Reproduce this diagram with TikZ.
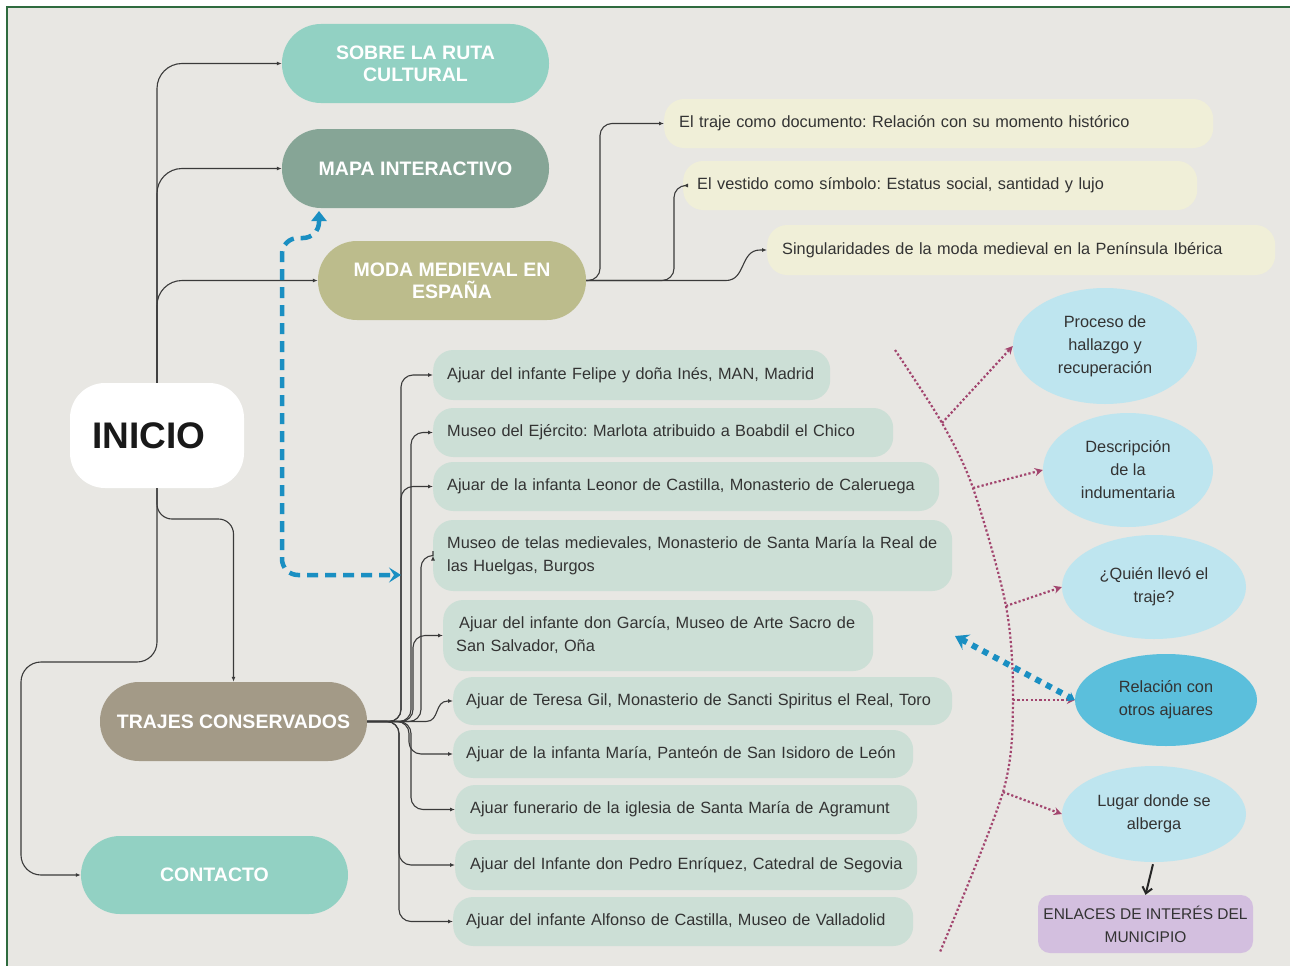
\documentclass[tikz,border=0pt]{standalone}
\usepackage{fontspec}
\setmainfont{Liberation Sans}
\usetikzlibrary{arrows.meta,shapes.geometric,calc}
\definecolor{bgc}{HTML}{E8E7E3}
\definecolor{framec}{HTML}{2F6B3F}
\definecolor{teal}{HTML}{92D1C3}
\definecolor{mapac}{HTML}{86A596}
\definecolor{modac}{HTML}{BCBC8C}
\definecolor{trajc}{HTML}{A39A87}
\definecolor{creamc}{HTML}{F0EFD8}
\definecolor{listc}{HTML}{CCDFD6}
\definecolor{lblue}{HTML}{BEE5EF}
\definecolor{dblue}{HTML}{5BBFDC}
\definecolor{purp}{HTML}{D3BFDF}
\definecolor{pinkc}{HTML}{A2456E}
\definecolor{bluec}{HTML}{1A8FC2}
\definecolor{txt}{HTML}{333333}
\definecolor{linec}{HTML}{3A3A3A}
\frenchspacing
\begin{document}
\begin{tikzpicture}[x=1pt,y=-1pt,
  head/.style={fill=#1, rounded corners=39pt, minimum width=267pt, minimum height=79pt,
    text=white, font=\bfseries\fontsize{19.5}{22}\selectfont, align=center, inner sep=0pt},
  cbox/.style={fill=creamc, rounded corners=20pt, minimum height=49pt, anchor=west,
    inner ysep=0pt, font=\fontsize{16.3}{23}\selectfont, text=txt, align=left},
  lbox/.style={fill=listc, rounded corners=20pt, minimum height=49pt, anchor=west,
    inner ysep=0pt, font=\fontsize{16.3}{23}\selectfont, text=txt, align=left},
  ell/.style={ellipse, fill=lblue, inner sep=0pt, text=txt, align=center,
    font=\fontsize{16.3}{23}\selectfont},
  conn/.style={draw=linec, line width=1.1pt, -{Latex[length=5pt,width=4pt]}},
  pdot/.style={draw=pinkc, line width=2.2pt, dash pattern=on 2.2pt off 2.2pt},
  parr/.style={pdot, -{Stealth[length=8pt,width=8pt,fill=pinkc]}}
]
\useasboundingbox (0,0) rectangle (1290,966);
\fill[white] (0,0) rectangle (1290,966);
\fill[bgc] (7,7) rectangle (1290,966);
\draw[framec, line width=2pt] (7,966) -- (7,7) -- (1290,7);

% main nodes
\node[head=teal] (sobre) at (415.5,63.5) {SOBRE LA RUTA\\CULTURAL};
\node[head=mapac] (mapa) at (415.5,168.5) {MAPA INTERACTIVO};
\node[head=modac, minimum width=268pt] (moda) at (452,280.5) {MODA MEDIEVAL EN\\ESPAÑA};
\node[head=trajc] (trajes) at (233.5,721.5) {TRAJES CONSERVADOS};
\node[head=teal, minimum height=78pt] (contacto) at (214.5,875) {CONTACTO};
\node[fill=white, rounded corners=35pt, minimum width=174pt, minimum height=105pt,
  font=\bfseries\fontsize{37}{40}\selectfont, text=black!90] (inicio) at (157,435.5) {\hspace*{-16pt}INICIO};

% cream boxes
\node[cbox, inner xsep=15pt, text width=519pt] (c1) at (664,123.5) {\mbox{El traje como documento: Relación con su momento histórico}};
\node[cbox, inner xsep=14pt, text width=486pt] (c2) at (683,185.5) {\mbox{El vestido como símbolo: Estatus social, santidad y lujo}};
\node[cbox, inner xsep=15pt, text width=478pt, minimum height=50pt] (c3) at (767,250) {\mbox{Singularidades de la moda medieval en la Península Ibérica}};

% list boxes
\node[lbox, inner xsep=14pt, text width=369pt, minimum height=50pt] (l1) at (433,375) {\mbox{Ajuar del infante Felipe y doña Inés, MAN, Madrid}};
\node[lbox, inner xsep=14pt, text width=432pt] (l2) at (433,432.5) {\mbox{Museo del Ejército: Marlota atribuido a Boabdil el Chico}};
\node[lbox, inner xsep=14pt, text width=478pt] (l3) at (433,486.5) {\mbox{Ajuar de la infanta Leonor de Castilla, Monasterio de Caleruega}};
\node[lbox, inner xsep=14pt, text width=491pt, minimum height=71pt] (l4) at (433,555.5) {\mbox{Museo de telas medievales, Monasterio de Santa María la Real de}\\\mbox{las Huelgas, Burgos}};
\node[lbox, inner xsep=13pt, text width=404pt, minimum height=71pt] (l5) at (443,635.5) {\mbox{\hspace*{3pt}Ajuar del infante don García, Museo de Arte Sacro de}\\\mbox{San Salvador, Oña}};
\node[lbox, inner xsep=13pt, text width=473pt, minimum height=48pt] (l6) at (453,701) {\mbox{Ajuar de Teresa Gil, Monasterio de Sancti Spiritus el Real, Toro}};
\node[lbox, inner xsep=13pt, text width=434pt, minimum height=48pt] (l7) at (453,754) {\mbox{Ajuar de la infanta María, Panteón de San Isidoro de León}};
\node[lbox, inner xsep=15pt, text width=432pt] (l8) at (455,809.5) {\mbox{Ajuar funerario de la iglesia de Santa María de Agramunt}};
\node[lbox, inner xsep=15pt, text width=432pt, minimum height=50pt] (l9) at (455,865) {\mbox{Ajuar del Infante don Pedro Enríquez, Catedral de Segovia}};
\node[lbox, inner xsep=13pt, text width=434pt] (l10) at (453,921.5) {\mbox{Ajuar del infante Alfonso de Castilla, Museo de Valladolid}};

% ellipses
\node[ell, minimum width=184pt, minimum height=116pt] (e1) at (1105,346) {Proceso de\\hallazgo y\\recuperación};
\node[ell, minimum width=170pt, minimum height=114pt] (e2) at (1128,470) {Descripción\\de la\\indumentaria};
\node[ell, minimum width=184pt, minimum height=104pt] (e3) at (1154,587) {¿Quién llevó el\\traje?};
\node[ell, fill=dblue, minimum width=182pt, minimum height=92pt] (e4) at (1166,700) {Relación con\\otros ajuares};
\node[ell, minimum width=184pt, minimum height=96pt] (e5) at (1154,814) {Lugar donde se\\alberga};
\node[fill=purp, rounded corners=12pt, minimum width=215pt, minimum height=58pt, inner sep=0pt,
  align=center, text=txt, font=\fontsize{15.5}{23}\selectfont] (enl) at (1145.5,924) {ENLACES DE INTERÉS DEL\\MUNICIPIO};

% INICIO connectors
\draw[conn, rounded corners=25pt] (inicio.north) |- (sobre.west);
\draw[conn, rounded corners=25pt] (inicio.north) |- (mapa.west);
\draw[conn, rounded corners=25pt] (inicio.north) |- (moda.west);
\draw[conn, rounded corners=15pt] (inicio.south) |- (233.5,519) -- (trajes.north);
\draw[conn, rounded corners=20pt] (inicio.south) -- (157,662) -- (21,662) -- (21,875) -- (contacto.west);

% MODA connectors
\draw[conn, rounded corners=12pt] (moda.east) -| (600,123.5) -- (c1.west);
\draw[conn, rounded corners=12pt] (moda.east) -| (674,185.5) -- (c2.west);
\draw[conn] (moda.east) -- (726,280.5) .. controls (746,280.5) and (740,250) .. (760,250) -- (c3.west);

% TRAJES fan
\draw[conn, rounded corners=12pt] (trajes.east) -| (401,375) -- (l1.west);
\draw[conn, rounded corners=12pt] (trajes.east) -| (411,432.5) -- (l2.west);
\draw[conn, rounded corners=12pt] (trajes.east) -| (401,486.5) -- (l3.west);
\draw[conn, rounded corners=12pt] (trajes.east) -| (421,555.5) -- (l4.west);
\draw[conn, rounded corners=12pt] (trajes.east) -| (413,635.5) -- (l5.west);
\draw[conn] (trajes.east) -- (426,721.5) .. controls (440,721.5) and (434,701) .. (448,701) -- (l6.west);
\draw[conn, rounded corners=12pt] (trajes.east) -| (409,754) -- (l7.west);
\draw[conn, rounded corners=12pt] (trajes.east) -| (411,809.5) -- (l8.west);
\draw[conn, rounded corners=12pt] (trajes.east) -| (399,865) -- (l9.west);
\draw[conn, rounded corners=12pt] (trajes.east) -| (399,921.5) -- (l10.west);

% blue dashed double arrow
\coordinate (bd1) at (319,211);
\coordinate (bd2) at (401,575);
\draw[bluec, line width=4.5pt, dash pattern=on 11pt off 7pt, rounded corners=16pt,
  {Triangle[length=10pt,width=15pt]}-{Stealth[length=12pt,width=15pt,inset=5pt]}]
  (bd1) -- (319,238) -- (282,238) -- (282,575) -- (bd2);

% pink dotted spine
\coordinate (s0) at (895,350);
\coordinate (s1) at (942,423);
\coordinate (s2) at (973,488);
\coordinate (s3) at (1006,606);
\coordinate (s4) at (1013,700);
\coordinate (s5) at (1003,792);
\coordinate (s6) at (940,952);
\draw[pdot] plot[smooth] coordinates {(s0) (s1) (s2) (s3) (s4) (s5) (s6)};
\draw[parr] (s1) -- (e1.west);
\draw[parr] (s2) -- (e2.west);
\draw[parr] (s3) -- (e3.west);
\draw[parr] (s4) -- (e4.west);
\draw[parr] (s5) -- (e5.west);

% blue dotted double arrow
\coordinate (bt) at (955,636);
\draw[bluec, line width=6pt, dash pattern=on 6pt off 6pt,
  {Stealth[length=13pt,width=17pt,inset=5pt]}-{Stealth[length=7pt,width=10pt]}]
  (bt) -- (e4.west);

% black arrow
\draw[black!85, line width=2pt, -{Straight Barb[length=6pt,width=10pt]}]
  ($(e5.south)+(-1,2)$) -- (enl.north);
\end{tikzpicture}
\end{document}
